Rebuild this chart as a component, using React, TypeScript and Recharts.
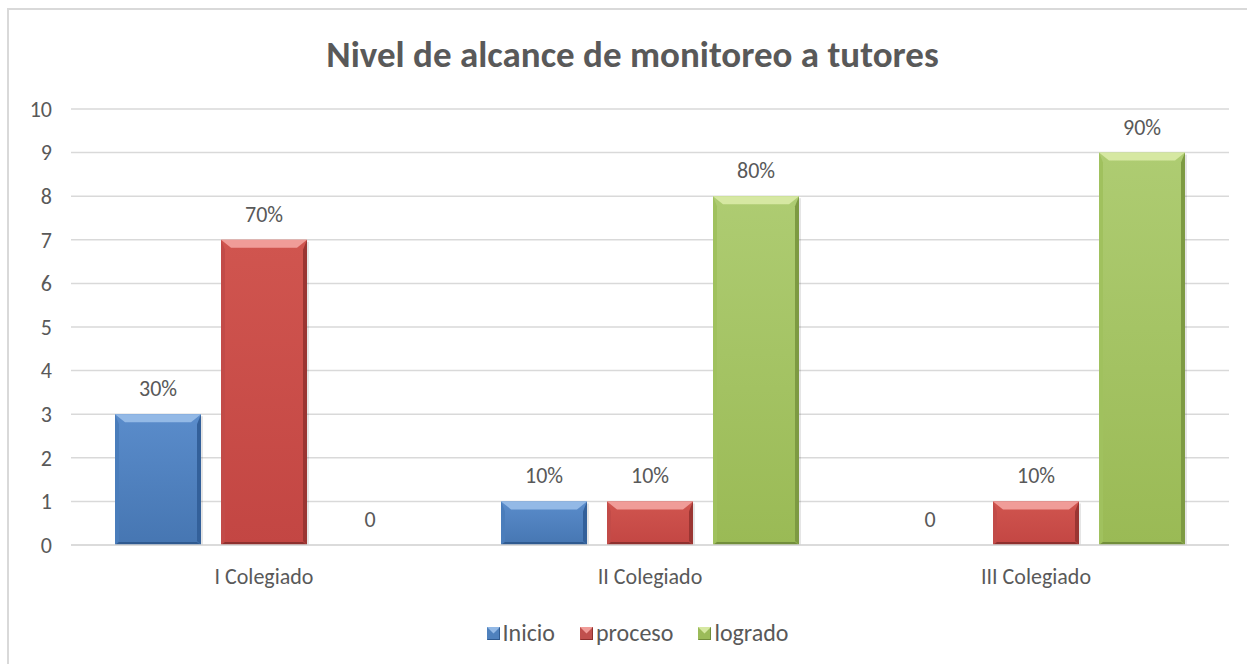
import React from 'react';
import { BarChart, Bar, XAxis, YAxis, CartesianGrid, LabelList } from 'recharts';

const categories = ['I Colegiado', 'II Colegiado', 'III Colegiado'];
const inicioValues = [3, 1, 0];
const procesoValues = [7, 1, 1];
const logradoValues = [0, 8, 9];
const inicioLabels = ['30%', '10%', '0'];
const procesoLabels = ['70%', '10%', '10%'];
const logradoLabels = ['0', '80%', '90%'];
const yTicks = [0, 1, 2, 3, 4, 5, 6, 7, 8, 9, 10];
const seriesNames = ['Inicio', 'proceso', 'logrado'];
const titleText = 'Nivel de alcance de monitoreo a tutores';

const data = categories.map((name, i) => ({
  name,
  inicio: inicioValues[i],
  proceso: procesoValues[i],
  logrado: logradoValues[i],
  inicioLabel: inicioLabels[i],
  procesoLabel: procesoLabels[i],
  logradoLabel: logradoLabels[i],
}));

type Pal = { id: string; gTop: string; gBot: string; top: string; left: string; right: string; bottom: string; legend: string };

const palettes: Pal[] = [
  { id: 'blue', gTop: '#5A8CCB', gBot: '#4676B2', top: '#93B9E6', left: '#4A7DBB', right: '#33609A', bottom: '#2F5A90', legend: '#4F81BD' },
  { id: 'red', gTop: '#D0554F', gBot: '#C34643', top: '#F09C98', left: '#C24B48', right: '#9A3532', bottom: '#8E302E', legend: '#C0504D' },
  { id: 'green', gTop: '#AECC72', gBot: '#9ABA55', top: '#D6E8A2', left: '#A0C15E', right: '#7D9A42', bottom: '#728E3B', legend: '#9BBB59' },
];

const FONT = 'Carlito, Lato, "Liberation Sans", sans-serif';
const TXT = '#595959';
const FS = 22;

const makeShape = (pal: Pal) => (props: any) => {
  const { x, y, width: w, height: h } = props;
  if (!h || h <= 0 || !w) return <g />;
  const bt = Math.min(8, h / 2);
  const bs = 4;
  const bc = 10;
  return (
    <g>
      <rect x={x + 2} y={y + 2} width={w} height={Math.max(0, h - 2)} fill="rgba(0,0,0,0.10)" />
      <rect x={x} y={y} width={w} height={h} fill={`url(#grad-${pal.id})`} />
      <polygon points={`${x},${y} ${x + bs},${y + bc} ${x + bs},${y + h - bs} ${x},${y + h}`} fill={pal.left} />
      <polygon points={`${x + w},${y} ${x + w},${y + h} ${x + w - bs},${y + h - bs} ${x + w - bs},${y + bc}`} fill={pal.right} />
      <polygon points={`${x},${y + h} ${x + w},${y + h} ${x + w - bs},${y + h - 3} ${x + bs},${y + h - 3}`} fill={pal.bottom} />
      <polygon points={`${x},${y} ${x + w},${y} ${x + w - bc},${y + bt} ${x + bc},${y + bt}`} fill={pal.top} />
    </g>
  );
};

const keys = ['inicio', 'proceso', 'logrado'];

export default function App() {
  return (
    <div style={{ position: 'absolute', left: 0, top: 0, width: 1247, height: 664, background: '#fff', fontFamily: FONT }}>
      <div style={{ position: 'absolute', left: 7, top: 8, right: 0, bottom: 0, borderTop: '2px solid #D9D9D9', borderLeft: '2px solid #D9D9D9' }} />
      <div style={{ position: 'absolute', left: 0, width: 1265, top: 33, textAlign: 'center', fontSize: 37, fontWeight: 700, color: TXT, lineHeight: '44px' }}>
        {titleText}
      </div>
      <BarChart
        width={1247}
        height={664}
        data={data}
        margin={{ top: 109, right: 18, bottom: 79, left: 0 }}
        barSize={86}
        barGap={20}
        style={{ position: 'absolute', left: 0, top: 0 }}
      >
        <defs>
          {palettes.map((p) => (
            <linearGradient key={p.id} id={`grad-${p.id}`} x1="0" y1="0" x2="0" y2="1">
              <stop offset="0%" stopColor={p.gTop} />
              <stop offset="100%" stopColor={p.gBot} />
            </linearGradient>
          ))}
        </defs>
        <CartesianGrid horizontal vertical={false} stroke="#D9D9D9" strokeWidth={1.5} />
        <XAxis
          dataKey="name"
          height={40}
          axisLine={{ stroke: '#D9D9D9', strokeWidth: 1.5 }}
          tickLine={false}
          tickSize={6}
          tickMargin={17}
          tick={{ fill: TXT, fontSize: FS, fontFamily: FONT }}
        />
        <YAxis
          domain={[0, 10]}
          ticks={yTicks}
          width={71}
          axisLine={false}
          tickLine={false}
          tickSize={6}
          tickMargin={13}
          tick={{ fill: TXT, fontSize: FS, fontFamily: FONT }}
          interval={0}
        />
        {keys.map((k, i) => (
          <Bar key={k} dataKey={k} name={seriesNames[i]} fill={palettes[i].legend} isAnimationActive={false} shape={makeShape(palettes[i])}>
            <LabelList dataKey={`${k}Label`} position="top" offset={18} fill={TXT} fontSize={22} fontFamily={FONT} />
          </Bar>
        ))}
      </BarChart>
      <div style={{ position: 'absolute', left: 0, width: 1275, top: 617, display: 'flex', justifyContent: 'center', gap: 25, fontSize: 24, color: TXT, lineHeight: '32px' }}>
        {seriesNames.map((n, i) => (
          <div key={n} style={{ display: 'flex', alignItems: 'center', gap: 3 }}>
            <svg width={13} height={13}>
              <rect x={0} y={0} width={13} height={13} fill={palettes[i].legend} />
              <polygon points="0,0 13,0 6.5,6.5" fill={palettes[i].top} />
              <polygon points="0,13 13,13 13,0 12,1 12,12 1,12" fill={palettes[i].bottom} />
            </svg>
            <span>{n}</span>
          </div>
        ))}
      </div>
    </div>
  );
}
